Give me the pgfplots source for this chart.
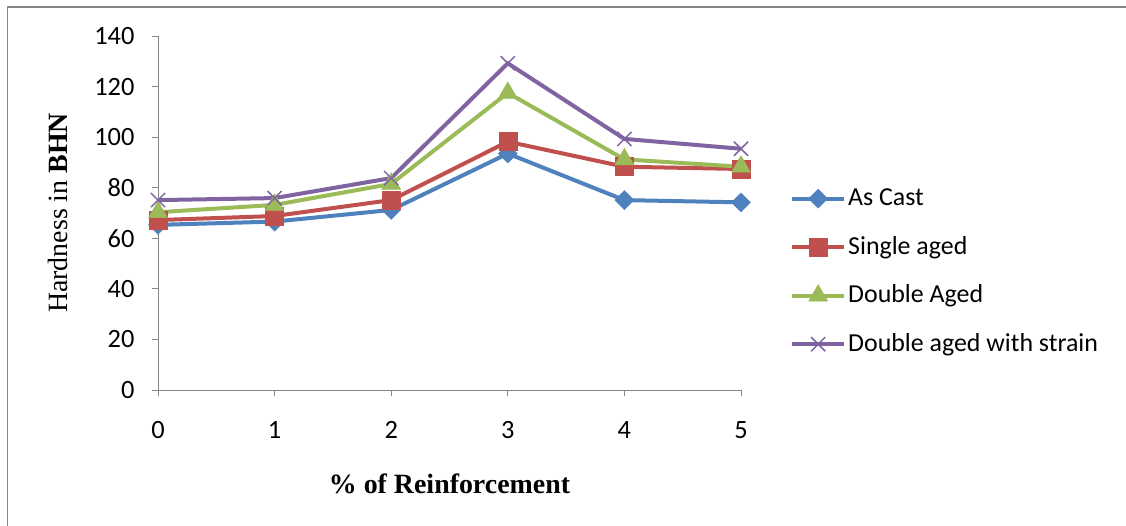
\documentclass[border=0pt]{standalone}
\usepackage{fontspec}
\setmainfont{Liberation Serif}
\newfontfamily\calibri{Carlito}
\usepackage{pgfplots}
\pgfplotsset{compat=1.18}
\definecolor{cblue}{HTML}{4F81BD}
\definecolor{cred}{HTML}{C0504D}
\definecolor{cgreen}{HTML}{9BBB59}
\definecolor{cpurple}{HTML}{8064A2}
\definecolor{axgray}{HTML}{868686}
\begin{document}
\begin{tikzpicture}[x=1bp,y=1bp]
\useasboundingbox (0,0) rectangle (1126,526);
\draw[color=axgray, line width=1.5bp] (7.5,0) -- (7.5,519) -- (1126,519);
\begin{axis}[
  at={(158bp,136bp)}, anchor=south west,
  scale only axis, width=583bp, height=354bp,
  xmin=0, xmax=5, ymin=0, ymax=140,
  clip=false,
  axis x line*=bottom, axis y line*=left,
  axis line style={-, draw=axgray, line width=0.9bp},
  xtick={0,1,2,3,4,5}, ytick={0,20,...,140},
  tick align=outside, major tick length=6bp,
  tick style={draw=axgray, line width=0.9bp},
  /pgf/number format/assume math mode=true,
  tick label style={font=\calibri\fontsize{26.5}{30}\selectfont},
  xticklabel style={yshift=-22bp},
  yticklabel style={xshift=-14bp},
  xlabel={\textbf{\% of Reinforcement}},
  ylabel={Hardness in \textbf{BHN}},
  label style={font=\fontsize{28}{32}\selectfont},
  xlabel style={at={(0.5,-0.265)}, anchor=center},
  ylabel style={at={(-0.172,0.5)}, anchor=center},
  legend cell align=left,
  legend style={at={(1.084,0.335)}, anchor=west, draw=none, fill=none,
    inner sep=0pt, row sep=18.5bp, column sep=0bp,
    font=\calibri\fontsize{26}{30}\selectfont,
    nodes={inner sep=2bp, text height=20bp, text depth=6bp}},
  legend image code/.code={\draw[mark repeat=2,mark phase=2] plot coordinates {(0bp,0bp)(26bp,0bp)(52bp,0bp)};},
  every axis plot/.append style={line width=4bp},
]
\addplot[color=cblue, mark=square*, mark size=6.7bp, mark options={rotate=45, line width=0.5bp}]
  coordinates {(0,65.3) (1,66.6) (2,71.2) (3,93.5) (4,75.1) (5,74.2)};
\addlegendentry{As Cast}
\addplot[color=cred, mark=square*, mark size=9bp, mark options={line width=0.5bp}]
  coordinates {(0,67.2) (1,68.8) (2,75.1) (3,98.2) (4,88.3) (5,87.4)};
\addlegendentry{Single aged}
\addplot[color=cgreen, mark=triangle*, mark size=11bp, mark options={line width=0.5bp}]
  coordinates {(0,70.3) (1,73.2) (2,81.5) (3,117.5) (4,91.2) (5,88.3)};
\addlegendentry{Double Aged}
\addplot[color=cpurple, mark=x, mark size=10bp, mark options={line width=1.5bp}]
  coordinates {(0,75.1) (1,75.9) (2,83.8) (3,129.2) (4,99.3) (5,95.4)};
\addlegendentry{Double aged with strain}
\end{axis}
\end{tikzpicture}
\end{document}
